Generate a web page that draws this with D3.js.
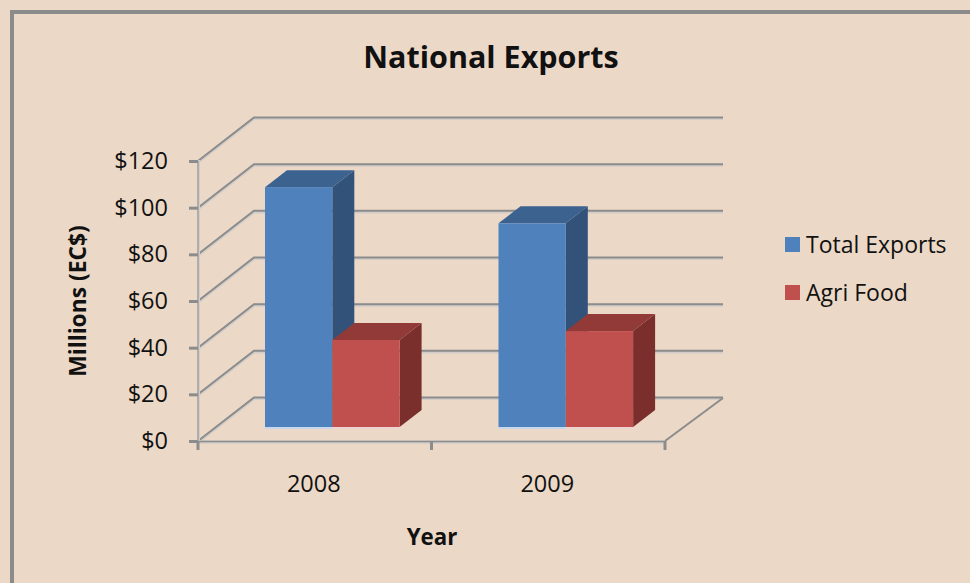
<!DOCTYPE html>
<html>
<head>
<meta charset="utf-8">
<script src="https://cdn.jsdelivr.net/npm/d3@7"></script>
<style>
html,body{margin:0;padding:0;background:#ecd8c6;overflow:hidden}
text{font-family:"Open Sans","Noto Sans",sans-serif;fill:#111}
</style>
</head>
<body>
<div id="container"></div>
<script>
var years = ['2008','2009'];
var seriesNames = ['Total Exports','Agri Food'];
var totalExports = [102.8,87.3];
var agriFood = [37.3,41.1];
var tickValues = [0,20,40,60,80,100,120];
var seriesValues = [totalExports,agriFood];

var width = 970;
var height = 583;
var depthX = 56;
var depthY = 43.5;
var barDepthX = 22;
var barDepthY = 17;

var fronts = ['#4f81bd','#c0504d'];
var tops = ['#3c6290','#913a38'];
var sides = ['#32527a','#7a2f2d'];
var baseGlow = ['#c6d7ee','#efd3cf'];
var gridDark = '#8c8c8c';
var gridLight = '#d2cdc8';

var svg = d3.select('#container').append('svg')
    .attr('width',width).attr('height',height);

// frame, only top and left show in the picture
svg.append('path')
    .attr('d','M12,583V12H970')
    .attr('fill','none')
    .attr('stroke','#8b8b8b')
    .attr('stroke-width',4);

var y = d3.scaleLinear().domain([0,120]).range([441,161]);
var x = d3.scaleBand().domain(years).range([198,665]);

// back wall and side wall gridlines
tickValues.forEach(function(t){
    let yy = y(t);
    svg.append('path')
        .attr('d','M198,'+yy+'L'+(198+depthX)+','+(yy-depthY)+'H723')
        .attr('fill','none')
        .attr('stroke',gridLight)
        .attr('stroke-width',3.2)
        .attr('transform','translate(0,1)');
    svg.append('path')
        .attr('d','M198,'+yy+'L'+(198+depthX)+','+(yy-depthY)+'H723')
        .attr('fill','none')
        .attr('stroke',gridDark)
        .attr('stroke-width',2);
});

// floor right edge
svg.append('path')
    .attr('d','M665,441L723,398')
    .attr('fill','none').attr('stroke',gridDark).attr('stroke-width',2);

// axes
var yAxis = d3.axisLeft(y).tickValues(tickValues).tickFormat(function(d){return '$'+d;}).tickSize(9).tickPadding(21);
var gy = svg.append('g').attr('transform','translate(198,0)').call(yAxis);
gy.select('.domain').attr('stroke',gridLight).attr('stroke-width',3);
gy.selectAll('.tick line').attr('stroke',gridDark).attr('stroke-width',3);
gy.selectAll('text').attr('font-size',23.5).style('font-family','"Open Sans","Noto Sans",sans-serif').style('fill','#111');
svg.append('line').attr('x1',198).attr('x2',198).attr('y1',161).attr('y2',441)
    .attr('stroke',gridDark).attr('stroke-width',1);

svg.append('path').attr('d','M198,442H665').attr('stroke',gridLight).attr('stroke-width',3.4).attr('fill','none');
svg.append('path').attr('d','M198,441.5H665').attr('stroke',gridDark).attr('stroke-width',1.4).attr('fill','none');
[198,431.5,665].forEach(function(px){
    svg.append('line').attr('x1',px).attr('x2',px).attr('y1',441).attr('y2',450)
        .attr('stroke',gridDark).attr('stroke-width',3);
});
svg.selectAll('.yearLabel').data(years).enter().append('text')
    .attr('class','yearLabel')
    .attr('x',function(d){return x(d)+x.bandwidth()/2-1;})
    .attr('y',492)
    .attr('text-anchor','middle')
    .attr('font-size',23.5)
    .text(function(d){return d;});

// bars, drawn back to front
var barBase = 427;
var barScale = d3.scaleLinear().domain([0,120]).range([barBase,barBase-280]);
var barW = 67.3;
var barStart = {'2008':265,'2009':498.5};

years.forEach(function(year,i){
    seriesValues.forEach(function(vals,s){
        let x0 = barStart[year] + s*barW;
        let x1 = x0 + barW;
        let top = barScale(vals[i]);
        let g = svg.append('g').attr('class','bar');
        g.append('path')
            .attr('d','M'+x1+','+top+'l'+barDepthX+','+(-barDepthY)+'V'+(barBase-barDepthY)+'L'+x1+','+barBase+'Z')
            .attr('fill',sides[s]);
        g.append('path')
            .attr('d','M'+x0+','+top+'l'+barDepthX+','+(-barDepthY)+'H'+(x1+barDepthX)+'L'+x1+','+top+'Z')
            .attr('fill',tops[s]);
        g.append('rect')
            .attr('x',x0).attr('y',top)
            .attr('width',barW).attr('height',barBase-top)
            .attr('fill',fronts[s]);
        g.append('rect')
            .attr('x',x0).attr('y',barBase)
            .attr('width',barW).attr('height',2)
            .attr('fill',baseGlow[s]);
    });
});

// title and axis titles
svg.append('text').attr('x',491).attr('y',68).attr('text-anchor','middle')
    .attr('font-size',30.5).attr('font-weight','bold').text('National Exports');
svg.append('text').attr('x',432).attr('y',545).attr('text-anchor','middle')
    .attr('font-size',22.3).attr('font-weight','bold').text('Year');
svg.append('text').attr('transform','translate(86,301) rotate(-90)').attr('text-anchor','middle')
    .attr('font-size',22.8).attr('font-weight','bold').text('Millions (EC$)');

// legend
var legendY = d3.scalePoint().domain(seriesNames).range([245,293]);
seriesNames.forEach(function(name,s){
    svg.append('rect').attr('x',785).attr('y',legendY(name)-8).attr('width',15).attr('height',15).attr('fill',fronts[s]);
    svg.append('text').attr('x',806).attr('y',legendY(name)+8).attr('font-size',23).text(name);
});
</script>
</body>
</html>
